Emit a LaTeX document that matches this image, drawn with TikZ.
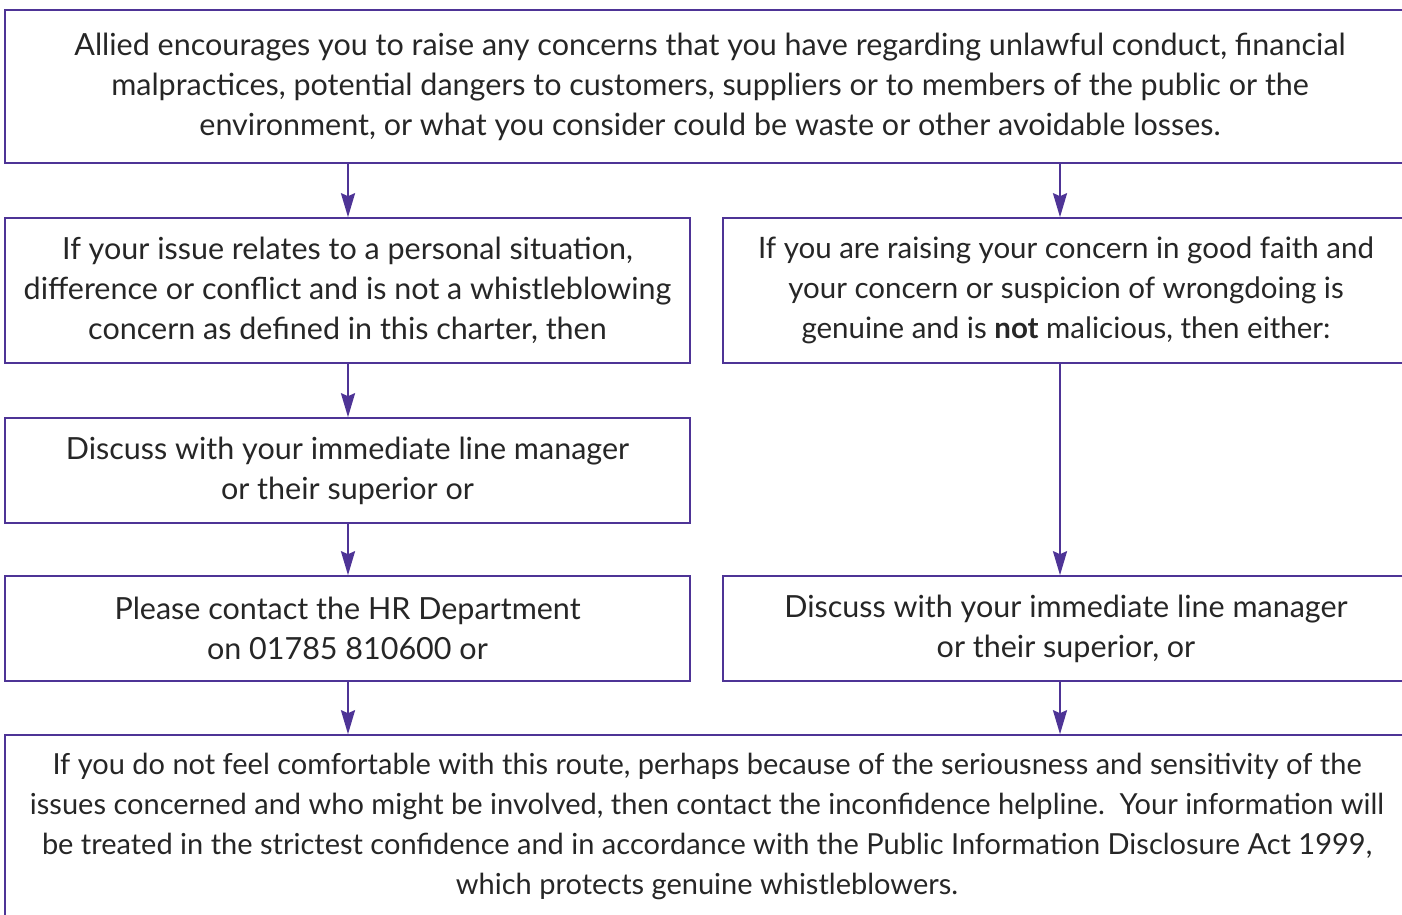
\documentclass[tikz,border=0pt]{standalone}
\usepackage{fontspec}
\setmainfont{Lato}
\usetikzlibrary{arrows.meta}
\definecolor{flowpurple}{RGB}{78,52,150}

\begin{document}
\begin{tikzpicture}[x=1pt,y=-1pt,
    box/.style={draw=flowpurple, line width=1.6pt, align=center, inner sep=0pt,
        font=\fontsize{30.5}{40}\selectfont, text=black!85},
    flow/.style={draw=flowpurple, line width=2.4pt,
        -{Stealth[length=24pt,width=14pt,inset=3pt]}}]
    \useasboundingbox (0,0) rectangle (1402,914);

    % Boxes
    \node[box, minimum width=1410pt, minimum height=153pt] (intro) at (710,86.5)
        {Allied encourages you to raise any concerns that you have regarding unlawful conduct, financial\\
         malpractices, potential dangers to customers, suppliers or to members of the public or the\\
         environment, or what you consider could be waste or other avoidable losses.};
    \node[box, minimum width=685pt, minimum height=145pt] (personal) at (347.5,290.5)
        {If your issue relates to a personal situation,\\
         difference or conflict and is not a whistleblowing\\
         concern as defined in this charter, then};
    \node[box, minimum width=686pt, minimum height=145pt, font=\fontsize{29.5}{40}\selectfont]
        (faith) at (1066,290.5)
        {If you are raising your concern in good faith and\\
         your concern or suspicion of wrongdoing is\\
         genuine and is \textbf{not} malicious, then either:};
    \node[box, minimum width=685pt, minimum height=105pt] (lineleft) at (347.5,470.5)
        {Discuss with your immediate line manager\\
         or their superior or};
    \node[box, minimum width=685pt, minimum height=105pt] (hr) at (347.5,628.5)
        {Please contact the HR Department\\
         on 01785 810600 or};
    \node[box, minimum width=686pt, minimum height=105pt] (lineright) at (1066,628.5)
        {Discuss with your immediate line manager\\
         or their superior, or};
    \node[box, minimum width=1404pt, minimum height=182pt, font=\fontsize{29}{40}\selectfont]
        (helpline) at (707,826)
        {If you do not feel comfortable with this route, perhaps because of the seriousness and sensitivity of the\\
         issues concerned and who might be involved, then contact the inconfidence helpline.\ \ Your information will\\
         be treated in the strictest confidence and in accordance with the Public Information Disclosure Act 1999,\\
         which protects genuine whistleblowers.};

    % Arrows
    \coordinate (leftx) at (348,0);
    \coordinate (rightx) at (1060,0);
    \draw[flow] (intro.south -| leftx) -- (personal.north -| leftx);
    \draw[flow] (intro.south -| rightx) -- (faith.north -| rightx);
    \draw[flow] (personal.south -| leftx) -- (lineleft.north -| leftx);
    \draw[flow] (lineleft.south -| leftx) -- (hr.north -| leftx);
    \draw[flow] (faith.south -| rightx) -- (lineright.north -| rightx);
    \draw[flow] (hr.south -| leftx) -- (helpline.north -| leftx);
    \draw[flow] (lineright.south -| rightx) -- (helpline.north -| rightx);
\end{tikzpicture}
\end{document}
